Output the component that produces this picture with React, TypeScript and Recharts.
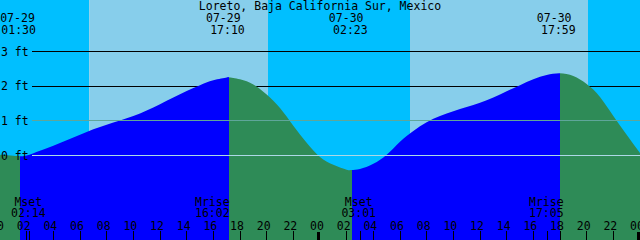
import { ComposedChart, Area, XAxis, YAxis, ReferenceArea, ReferenceLine } from 'recharts';

const title = 'Loreto, Baja California Sur, Mexico';

// hours after 07-29 00:00 -> tide height (ft)
const tideHours = [
  0, 1, 2, 3, 4, 5, 6, 7, 8, 9, 10, 11, 12, 13, 14, 15, 16, 17, 18, 19, 20, 21, 22, 23, 24,
  25, 26, 27, 28, 29, 30, 31, 32, 33, 34, 35, 36, 37, 38, 39, 40, 41, 43, 44, 45, 46, 47, 48,
];
const tideFeet = [
  0.02, -0.01, 0.0, 0.14, 0.28, 0.44, 0.6, 0.76, 0.89, 1.01, 1.14, 1.3, 1.48, 1.67, 1.86, 2.03, 2.17, 2.25,
  2.2, 2.05, 1.76, 1.37, 0.86, 0.37, -0.04,
  -0.27, -0.41, -0.39, -0.24, 0.02, 0.4, 0.71, 0.96, 1.14, 1.28, 1.4, 1.52, 1.67, 1.85, 2.03, 2.2, 2.32,
  2.29, 2.06, 1.69, 1.14, 0.6, 0.07,
];

// high / low waters
const extremeHours = [1.5, 17 + 10 / 60, 24 + 2 + 23 / 60, 24 + 17 + 59 / 60];
const extremeFeet = [-0.02, 2.26, -0.42, 2.37];
const extremeDates = ['07-29', '07-29', '07-30', '07-30'];
const extremeClock = ['01:30', '17:10', '02:23', '17:59'];

const sunriseHours = [6 + 41 / 60, 24 + 6 + 45 / 60];
const sunsetHours = [20 + 6 / 60, 24 + 20 + 6 / 60];

const moonHours = [2 + 14 / 60, 16 + 2 / 60, 24 + 3 + 1 / 60, 24 + 17 + 5 / 60];
const moonNames = ['Mset', 'Mrise', 'Mset', 'Mrise'];
const moonClock = ['02:14', '16:02', '03:01', '17:05'];

const hourTicks = Array.from({ length: 25 }, (_, i) => i * 2);
const feetTicks = [0, 1, 2, 3];

const W = 640;
const H = 240;
const X_MAX = 48;
const Y_MIN = -2.4375;
const Y_MAX = 4.4856;
const LINE_START = 2.4;

const NIGHT = '#00bfff';
const DAY = '#87ceeb';
const RISE = '#0000ff';
const FALL = '#2e8b57';
const font = { fontFamily: '"DejaVu Sans Mono", monospace', fontSize: 11.5, fill: '#000' };

const data = [...tideHours.map((t, i) => ({ t, ft: tideFeet[i] })),
  ...extremeHours.map((t, i) => ({ t, ft: extremeFeet[i] }))].sort((a, b) => a.t - b.t);

const highAt = (i: number) => extremeFeet[i] > extremeFeet[i % 2 === 0 ? i + 1 : i - 1];

// flood (rising) / ebb (falling) colour stops along the time span
const tFirst = data[0].t;
const tLast = data[data.length - 1].t;
const bounds = [tFirst, ...extremeHours, tLast];
const fillStops: { offset: number; color: string }[] = [];
for (let i = 0; i < bounds.length - 1; i++) {
  const nextIsHigh = i < extremeHours.length ? highAt(i) : !highAt(extremeHours.length - 1);
  const color = nextIsHigh ? RISE : FALL;
  fillStops.push({ offset: (bounds[i] - tFirst) / (tLast - tFirst), color });
  fillStops.push({ offset: (bounds[i + 1] - tFirst) / (tLast - tFirst), color });
}

const skyBands: { x1: number; x2: number; fill: string }[] = [];
{
  let start = 0;
  sunriseHours.forEach((r, i) => {
    skyBands.push({ x1: start, x2: r, fill: NIGHT });
    skyBands.push({ x1: r, x2: sunsetHours[i], fill: DAY });
    start = sunsetHours[i];
  });
  skyBands.push({ x1: start, x2: X_MAX, fill: NIGHT });
}

const allTicks = [...hourTicks, ...moonHours].sort((a, b) => a - b);

function HourTick(props: any) {
  const { x, payload } = props;
  const v = payload.value as number;
  if (!hourTicks.includes(v)) {
    return <line x1={x} x2={x} y1={231} y2={240} stroke="#000" shapeRendering="crispEdges" />;
  }
  const label = String(v % 24).padStart(2, '0');
  return (
    <g>
      {v % 24 === 0 ? (
        <rect x={x - 3} y={232} width={3} height={8} fill="#000" />
      ) : (
        <line x1={x} x2={x} y1={231} y2={240} stroke="#000" shapeRendering="crispEdges" />
      )}
      <text x={x - 3} y={229.5} textAnchor="middle" {...font}>{label}</text>
    </g>
  );
}

function FeetTick(props: any) {
  const { y, payload } = props;
  return <text x={1} y={y + 4} {...font}>{`${payload.value} ft`}</text>;
}

export default function App() {
  return (
    <div style={{ position: 'absolute', left: 0, top: 0, width: W, height: H }}>
      <ComposedChart width={W} height={H} data={data} margin={{ top: 0, right: 0, bottom: 0, left: 0 }}>
        <defs>
          <linearGradient id="tideFill" x1="0" y1="0" x2="1" y2="0">
            {fillStops.map((s, i) => (
              <stop key={i} offset={s.offset} stopColor={s.color} />
            ))}
          </linearGradient>
        </defs>
        {skyBands.map((b, i) => (
          <ReferenceArea key={`sky${i}`} x1={b.x1} x2={b.x2} fill={b.fill} fillOpacity={1} stroke="none" zIndex={-300} />
        ))}
        {[3, 2].map((v) => (
          <ReferenceLine key={`back${v}`} segment={[{ x: LINE_START, y: v }, { x: X_MAX, y: v }]}
            stroke="#000" shapeRendering="crispEdges" zIndex={-200} />
        ))}
        <Area type="natural" dataKey="ft" fill="url(#tideFill)" fillOpacity={1} stroke="none" baseValue={Y_MIN}
          dot={false} activeDot={false} isAnimationActive={false} zIndex={100} />
        <ReferenceLine segment={[{ x: LINE_START, y: 1 }, { x: X_MAX, y: 1 }]} stroke="#5fa69a"
          shapeRendering="crispEdges" zIndex={150} />
        <ReferenceLine segment={[{ x: LINE_START, y: 0 }, { x: X_MAX, y: 0 }]} stroke="#add8e6"
          shapeRendering="crispEdges" zIndex={150} />
        <XAxis dataKey="t" type="number" domain={[0, X_MAX]} allowDataOverflow ticks={allTicks} interval={0}
          mirror height={1} axisLine={false} tickLine={false} tick={<HourTick />} zIndex={700} />
        <YAxis type="number" domain={[Y_MIN, Y_MAX]} allowDataOverflow ticks={feetTicks} interval={0}
          mirror width={1} axisLine={false} tickLine={false} tick={<FeetTick />} zIndex={700} />
        {extremeHours.map((t, i) => (
          <ReferenceLine key={`ext${i}`} x={t} stroke="none" zIndex={600}
            label={({ viewBox }: any) => (
              <g>
                <text x={Math.max(viewBox.x - 5.6, 17.5)} y={21.5} textAnchor="middle" {...font}>{extremeDates[i]}</text>
                <text x={viewBox.x - 1.4} y={33.5} textAnchor="middle" {...font}>{extremeClock[i]}</text>
              </g>
            )} />
        ))}
        {moonHours.map((t, i) => (
          <ReferenceLine key={`moon${i}`} x={t} stroke="none" zIndex={600}
            label={({ viewBox }: any) => (
              <g>
                <text x={viewBox.x - 1.5} y={206} textAnchor="middle" {...font}>{moonNames[i]}</text>
                <text x={viewBox.x - 1.5} y={217} textAnchor="middle" {...font}>{moonClock[i]}</text>
              </g>
            )} />
        ))}
        <ReferenceLine x={X_MAX / 2} stroke="none" zIndex={600}
          label={({ viewBox }: any) => (
            <text x={viewBox.x} y={9.5} textAnchor="middle" {...font}>{title}</text>
          )} />
      </ComposedChart>
    </div>
  );
}
